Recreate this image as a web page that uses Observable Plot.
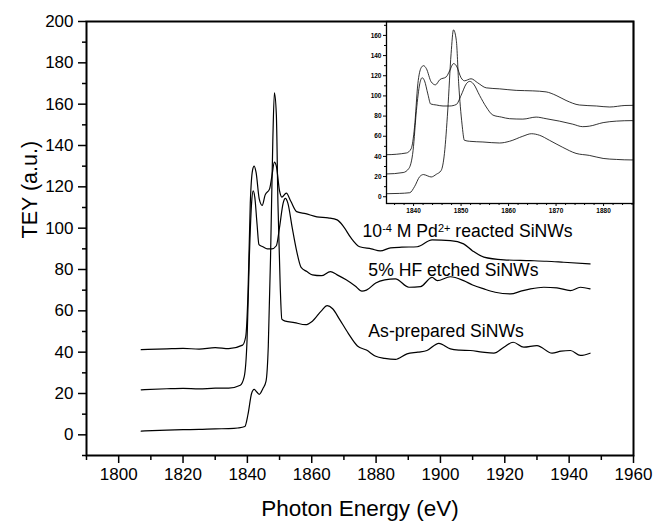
<!DOCTYPE html>
<html><head><meta charset="utf-8">
<script src="https://cdn.jsdelivr.net/npm/d3@7"></script>
<script src="https://cdn.jsdelivr.net/npm/@observablehq/plot@0.6"></script>
<style>
body{margin:0;background:#fff;}
#wrap{position:relative;width:653px;height:521px;}
#wrap svg{position:absolute;top:0;}
</style></head><body><div id="wrap"></div>
<script>
// As-prepared SiNWs
const asEnergy = [1807,1815,1820,1825,1830,1834.2,1837,1839.2,1840.2,1841.3,1842.1,1843,1843.7,1844.8,1845.8,1846.5,1847.2,1847.9,1848.4,1849,1849.5,1850.2,1850.7,1851.8,1854.6,1858.1,1860.2,1863,1864.8,1866.5,1868.6,1871.4,1874.2,1877,1879.9,1882.7,1886,1889.6,1893,1895.8,1899.5,1903.1,1906,1909.3,1913,1916.6,1919.7,1922.6,1925.9,1930,1934.7,1937.5,1940.4,1943.5,1946.5];
const asTey    = [1.8,2.3,2.5,2.6,2.9,3,3.3,4,10,20,22,20.6,19.6,22.3,26,43,86,142,165.5,155,112,72,56,55,54.3,53.3,55,60,62.5,61,56,49,43,41,38,37,36.5,39.2,40,40.8,44.3,41.6,41,40.8,40,39.5,42.4,44.8,42.4,43.2,39.5,40.5,40.8,38.4,39.5];
// 5% HF etched SiNWs
const hfEnergy = [1807,1815,1820,1825,1830,1834.2,1837.8,1839,1839.9,1840.6,1841.3,1841.8,1842.3,1843,1843.6,1844.8,1846.2,1847.6,1849,1850,1851.1,1851.8,1852.6,1853.9,1855.3,1856.7,1858.5,1860.2,1863,1865.8,1867.9,1870.7,1873.5,1875.6,1877,1879.9,1882.7,1886,1890.2,1893.8,1897.4,1899,1903.1,1907.2,1910,1913.5,1917,1921.8,1925,1928,1932.1,1936.2,1940.4,1943.5,1946.5];
const hfTey    = [21.8,22.3,22.5,22.2,22.6,22.6,24,28,46,85.6,112,118,115,102,92,91,90,90,91.5,100.5,112,114.4,112,100.5,89,81,79,77.4,77,79,77.4,75,72,69.5,70,73.5,75,75.5,71.4,71.7,76.2,74.6,76.5,74.6,72.5,70.6,69,68.2,69.5,70.6,71.4,71.1,69.8,71.4,70.6];
// 10^-4 M Pd2+ reacted SiNWs
const pdEnergy = [1807,1815,1820,1825,1830,1834.2,1838.5,1839.5,1840.2,1840.9,1841.6,1842.1,1842.7,1843.7,1844.6,1845.5,1846.9,1847.6,1848.4,1849,1850,1850.7,1852.1,1853.5,1855.3,1858.1,1861.6,1865.1,1867.9,1870,1872.1,1874.9,1878.5,1881.3,1884.5,1888,1892.8,1897.4,1903.1,1907.2,1910,1913.5,1919.7,1928,1933,1938.3,1946.5];
const pdTey    = [41.2,41.6,41.8,41.5,42.2,41.7,43.4,47.7,69,112,128,130,127,114,111,116,119,125,132,130,118,115,117,113,108,107,105.5,105,104,100.5,95.5,91,90,89,90.5,90.8,91,94.3,94,92.4,89,86,84.7,84.3,84,83.5,82.7];

const seriesNames = ["As-prepared SiNWs","5% HF etched SiNWs","10⁻⁴ M Pd²⁺ reacted SiNWs"];
const labelEnergy = [1877.6,1877.6,1875.8];
const labelTey    = [47.2,77,95.6];

const mainXTicks = [1800,1820,1840,1860,1880,1900,1920,1940,1960];
const mainXMinor = [1790,1810,1830,1850,1870,1890,1910,1930,1950];
const mainYTicks = [0,20,40,60,80,100,120,140,160,180,200];
const mainYMinor = [-10,10,30,50,70,90,110,130,150,170,190];
const insetXTicks = [1840,1850,1860,1870,1880];
const insetXMinor = [1836,1838,1842,1844,1846,1848,1852,1854,1856,1858,1862,1864,1866,1868,1872,1874,1876,1878,1882,1884,1886];
const insetYTicks = [0,20,40,60,80,100,120,140,160];
const insetYMinor = [10,30,50,70,90,110,130,150,170];

const series = [[asEnergy,asTey],[hfEnergy,hfTey],[pdEnergy,pdTey]];
const rows = series.flatMap(([e,t],k) => e.map((x,i)=>({s:seriesNames[k], energy:x, tey:t[i]})));
const labels = seriesNames.map((n,i)=>({text:n, energy:labelEnergy[i], tey:labelTey[i]}));

const font = "'Liberation Sans', Arial, Helvetica, sans-serif";
const plain = d => String(d);

const main = Plot.plot({
  width:653, height:521, marginLeft:86, marginRight:20, marginTop:21, marginBottom:66,
  style:{fontFamily:font, background:"white", color:"black", overflow:"visible"},
  x:{domain:[1790,1960]}, y:{domain:[-10,200]},
  marks:[
    Plot.axisX({ticks:mainXTicks, tickFormat:plain, tickSize:8, tickPadding:4, fontSize:17, label:null, strokeWidth:1.5}),
    Plot.axisX({ticks:mainXMinor, tickSize:5, text:null, label:null, strokeWidth:1.5}),
    Plot.axisY({ticks:mainYTicks, tickFormat:plain, tickSize:8, tickPadding:5, fontSize:17, label:null, strokeWidth:1.5}),
    Plot.axisY({ticks:mainYMinor, tickSize:4, text:null, label:null, strokeWidth:1.5}),
    Plot.frame({strokeWidth:2}),
    Plot.line(rows, {x:"energy", y:"tey", z:"s", stroke:"black", strokeWidth:1.2, curve:"monotone-x"}),
    Plot.text(labels, {x:"energy", y:"tey", text:"text", textAnchor:"start", lineAnchor:"bottom", fontSize:17.6}),
    Plot.text(["Photon Energy (eV)"], {frameAnchor:"bottom", dy:60, lineAnchor:"bottom", fontSize:22.5}),
    Plot.text(["TEY (a.u.)"], {frameAnchor:"left", dx:-56, rotate:-90, fontSize:21.5})
  ]
});

const inset = Plot.plot({
  width:313, height:230, marginLeft:46, marginRight:20, marginTop:21, marginBottom:27,
  style:{fontFamily:font, background:"transparent", color:"black", overflow:"visible"},
  x:{domain:[1834.3,1886.3]}, y:{domain:[-6.7,173.8]},
  marks:[
    Plot.axisX({ticks:insetXTicks, tickFormat:plain, tickSize:3, tickPadding:2, fontSize:6.5, fontWeight:"bold", label:null}),
    Plot.axisX({ticks:insetXMinor, tickSize:2, text:null, label:null}),
    Plot.axisY({ticks:insetYTicks, tickFormat:plain, tickSize:3, tickPadding:2, fontSize:6.5, fontWeight:"bold", label:null}),
    Plot.axisY({ticks:insetYMinor, tickSize:2, text:null, label:null}),
    Plot.frame({strokeWidth:1.3}),
    Plot.line(rows, {x:"energy", y:"tey", z:"s", stroke:"black", strokeWidth:0.8, curve:"monotone-x", clip:true})
  ]
});

main.style.left = "0px";
inset.style.left = "340px";
const wrap = document.getElementById("wrap");
wrap.appendChild(main);
wrap.appendChild(inset);

// superscripts as real tspans
const supMap = {"⁻":"-","⁴":"4","²":"2","⁺":"+"};
main.querySelectorAll("text").forEach(t => {
  const s = t.textContent;
  if (!/[⁻⁴²⁺]/.test(s)) return;
  while (t.firstChild) t.removeChild(t.firstChild);
  let buf = "", sup = false;
  const flush = () => {
    if (!buf) return;
    const ts = document.createElementNS("http://www.w3.org/2000/svg","tspan");
    ts.textContent = buf;
    if (sup) { ts.setAttribute("baseline-shift","45%"); ts.setAttribute("font-size","11"); }
    t.appendChild(ts); buf = "";
  };
  for (const ch of s) {
    const isSup = ch in supMap;
    if (isSup !== sup) { flush(); sup = isSup; }
    buf += isSup ? supMap[ch] : ch;
  }
  flush();
});
</script></body></html>
